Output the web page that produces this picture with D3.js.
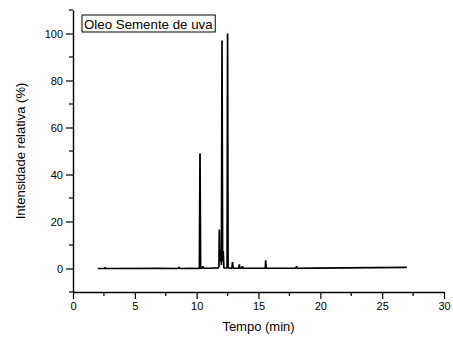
<!DOCTYPE html>
<html>
<head>
<meta charset="utf-8">
<script src="https://cdn.jsdelivr.net/npm/d3@7"></script>
<style>
  body { margin: 0; background: #fff; }
  text { font-family: "Liberation Sans", Arial, sans-serif; fill: #000; }
</style>
</head>
<body>
<svg id="chart" width="453" height="337"></svg>
<script>
// Chromatogram points (time in min, relative intensity in %)
const times = [2.0, 2.55, 2.6, 2.65, 3.0, 6.8, 8.5, 8.57, 8.64, 9.5, 10.22, 10.27, 10.32, 10.45, 10.5, 10.55, 11.0,
  11.75, 11.8, 11.83, 11.87, 11.95, 12.0, 12.05, 12.1, 12.15, 12.2, 12.3, 12.46, 12.5, 12.54, 12.85, 12.9, 12.95,
  13.4, 13.45, 13.5, 13.65, 13.7, 13.75, 15.55, 15.58, 15.62, 15.7, 16.0, 18.03, 18.08, 18.13, 19.5, 22.0, 24.5, 27.0];
const intensity = [0.0, 0.0, 0.4, 0.0, 0.0, 0.1, 0.0, 0.6, 0.0, 0.1, 0.0, 49, 0.0, 0.2, 1.0, 0.1, 0.1,
  0.3, 1.0, 16.6, 3.0, 8.0, 1.5, 97, 3.0, 7.4, 0.3, 0.2, 0.3, 100, 0.3, 0.2, 2.7, 0.2,
  0.1, 1.7, 0.1, 0.1, 1.0, 0.1, 0.1, 3.5, 0.3, 0.1, 0.1, 0.1, 1.0, 0.1, 0.2, 0.3, 0.4, 0.5];

const xTicks = [0, 5, 10, 15, 20, 25, 30];
const yTicks = [0, 20, 40, 60, 80, 100];
const xMinor = [2.5, 7.5, 12.5, 17.5, 22.5, 27.5];
const yMinor = [-10, 10, 30, 50, 70, 90, 110];

const legendLabel = 'Oleo Semente de uva';
const xTitle = 'Tempo (min)';
const yTitle = 'Intensidade relativa (%)';

const svg = d3.select('#chart');
const margin = { left: 73, right: 9, top: 10, bottom: 45 };
const W = 453, H = 337;

const x = d3.scaleLinear().domain([0, 30]).range([margin.left, W - margin.right]);
const y = d3.scaleLinear().domain([-10, 110]).range([H - margin.bottom, margin.top]);

// data line
const line = d3.line().x((d, i) => x(times[i])).y(d => y(d));
svg.append('path')
  .datum(intensity)
  .attr('d', line)
  .attr('fill', 'none')
  .attr('stroke', '#000')
  .attr('stroke-width', 1.7)
  .attr('stroke-linejoin', 'bevel');

// x axis
const xAxis = svg.append('g').attr('transform', `translate(0,${y(-10)})`);
xAxis.call(d3.axisBottom(x).tickValues(xTicks).tickSize(7).tickPadding(3).tickSizeOuter(0));
xMinor.forEach(v => {
  xAxis.append('line').attr('x1', x(v)).attr('x2', x(v)).attr('y1', 0).attr('y2', 4)
    .attr('stroke', '#000').attr('stroke-width', 1.2);
});

// y axis
const yAxis = svg.append('g').attr('transform', `translate(${x(0)},0)`);
yAxis.call(d3.axisLeft(y).tickValues(yTicks).tickSize(7).tickPadding(3).tickSizeOuter(0));
yMinor.forEach(v => {
  yAxis.append('line').attr('y1', y(v)).attr('y2', y(v)).attr('x1', 0).attr('x2', -4)
    .attr('stroke', '#000').attr('stroke-width', 1.2);
});

svg.selectAll('.domain').attr('stroke', '#000').attr('stroke-width', 1.4);
svg.selectAll('.tick line').attr('stroke', '#000').attr('stroke-width', 1.2);
svg.selectAll('.tick text').attr('font-size', 11).attr('font-family', '"Liberation Sans", Arial, sans-serif');

// axis titles
svg.append('text')
  .attr('x', (x(0) + x(30)) / 2)
  .attr('y', 331)
  .attr('text-anchor', 'middle')
  .attr('font-size', 13)
  .text(xTitle);

svg.append('text')
  .attr('transform', `translate(25,${(y(-10) + y(110)) / 2}) rotate(-90)`)
  .attr('text-anchor', 'middle')
  .attr('font-size', 13)
  .text(yTitle);

// legend box
const lg = svg.append('g').attr('transform', 'translate(82,15)');
const lt = lg.append('text').attr('x', 2).attr('y', 13.5).attr('font-size', 13.3).text(legendLabel);
const bb = lt.node().getBBox();
lg.insert('rect', 'text')
  .attr('x', 0).attr('y', 0)
  .attr('width', bb.width + 4).attr('height', 17)
  .attr('fill', '#fff').attr('stroke', '#000').attr('stroke-width', 1);
</script>
</body>
</html>
